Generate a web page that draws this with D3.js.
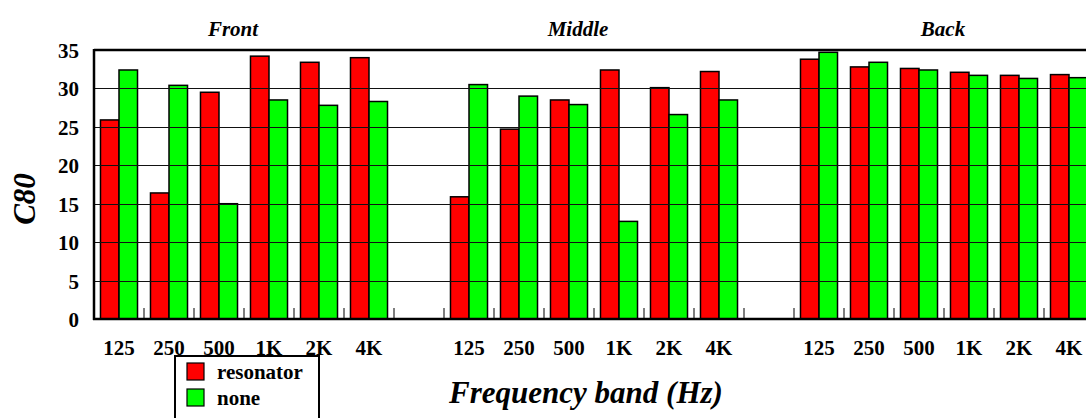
<!DOCTYPE html>
<html>
<head>
<meta charset="utf-8">
<script src="https://cdn.jsdelivr.net/npm/d3@7"></script>
<style>
  html, body { margin: 0; padding: 0; background: #fff; overflow: hidden; }
  svg { display: block; }
</style>
</head>
<body>
<svg id="chart" width="1086" height="418"></svg>
<script>
// data
var groups = ['Front', 'Middle', 'Back'];
var bands = ['125', '250', '500', '1K', '2K', '4K'];
var series = ['resonator', 'none'];
var resonatorFront  = [25.9, 16.4, 29.5, 34.2, 33.4, 34.0];
var noneFront       = [32.4, 30.4, 15.0, 28.5, 27.8, 28.3];
var resonatorMiddle = [15.9, 24.7, 28.5, 32.4, 30.1, 32.2];
var noneMiddle      = [30.5, 29.0, 27.9, 12.7, 26.6, 28.5];
var resonatorBack   = [33.8, 32.8, 32.6, 32.1, 31.7, 31.8];
var noneBack        = [34.7, 33.4, 32.4, 31.7, 31.3, 31.4];
var yTicks = [0, 5, 10, 15, 20, 25, 30, 35];

var FONT = '"Liberation Serif", "Times New Roman", Times, serif';
var colors = { resonator: '#ff0000', none: '#00ff00' };
var byGroup = {
  Front:  { resonator: resonatorFront,  none: noneFront },
  Middle: { resonator: resonatorMiddle, none: noneMiddle },
  Back:   { resonator: resonatorBack,   none: noneBack }
};

// slots: 6 bands per group, one empty slot between groups
var slots = [], rows = [];
groups.forEach(function(g, gi) {
  if (gi > 0) { slots.push('gap' + gi); }
  bands.forEach(function(b, bi) {
    var key = g + '-' + b;
    slots.push(key);
    series.forEach(function(s) {
      rows.push({ slot: key, series: s, value: byGroup[g][s][bi] });
    });
  });
});

var L = { left: 94, right: 1094, top: 50, bottom: 319 };
var svg = d3.select('#chart').style('font-family', FONT);

var x = d3.scaleBand().domain(slots).range([L.left, L.right]).padding(0);
var xs = d3.scaleBand().domain(series).range([0, x.bandwidth()])
  .paddingInner(0).paddingOuter(0.35);
var y = d3.scaleLinear().domain([0, 35]).range([L.bottom, L.top]);

// bars
svg.append('g').selectAll('rect')
  .data(rows)
  .enter()
  .append('rect')
  .attr('x', function(d) { return x(d.slot) + xs(d.series); })
  .attr('y', function(d) { return y(d.value); })
  .attr('width', xs.bandwidth())
  .attr('height', function(d) { return y(0) - y(d.value); })
  .style('fill', function(d) { return colors[d.series]; })
  .style('stroke', '#000')
  .style('stroke-width', 1.5);

// grid lines sit over the bars in the original
svg.append('g').selectAll('line')
  .data(yTicks.filter(function(v) { return v > 0 && v < 35; }))
  .enter()
  .append('line')
  .attr('x1', L.left).attr('x2', L.right)
  .attr('y1', function(d) { return Math.round(y(d)) + 0.5; })
  .attr('y2', function(d) { return Math.round(y(d)) + 0.5; })
  .style('stroke', '#111')
  .style('stroke-width', 1.2);

// top frame line
svg.append('line')
  .attr('x1', L.left).attr('x2', L.right)
  .attr('y1', y(35)).attr('y2', y(35))
  .style('stroke', '#000').style('stroke-width', 2.5);

// boundary ticks, pointing up from the axis
svg.append('g').selectAll('line')
  .data(slots.slice(1))
  .enter()
  .append('line')
  .attr('x1', function(d) { return x(d); })
  .attr('x2', function(d) { return x(d); })
  .attr('y1', L.bottom).attr('y2', L.bottom - 11)
  .style('stroke', '#555').style('stroke-width', 1.5);

function styleTicks(sel) {
  sel.select('.domain').remove();
  sel.selectAll('text')
    .attr('fill', '#000')
    .style('font-family', FONT)
    .style('font-size', '21px')
    .style('font-weight', 'bold');
}

// axes
var yAxis = svg.append('g')
  .attr('transform', 'translate(' + L.left + ',0)')
  .call(d3.axisLeft(y).tickValues(yTicks).tickSize(0).tickPadding(15));
styleTicks(yAxis);
yAxis.selectAll('text').attr('dy', '0.36em');

var xAxis = svg.append('g')
  .attr('transform', 'translate(0,' + L.bottom + ')')
  .call(d3.axisBottom(x).tickSize(0).tickPadding(21)
    .tickFormat(function(d) { return d.indexOf('gap') === 0 ? '' : d.split('-')[1]; }));
styleTicks(xAxis);

svg.append('line')
  .attr('x1', L.left - 1).attr('x2', L.right)
  .attr('y1', L.bottom).attr('y2', L.bottom)
  .style('stroke', '#000').style('stroke-width', 2.5);
svg.append('line')
  .attr('x1', L.left).attr('x2', L.left)
  .attr('y1', L.top - 1).attr('y2', L.bottom + 1)
  .style('stroke', '#000').style('stroke-width', 2.5);

// group titles
var titleX = { Front: 233, Middle: 578, Back: 943 };
svg.append('g').selectAll('text')
  .data(groups)
  .enter()
  .append('text')
  .attr('x', function(d) { return titleX[d]; })
  .attr('y', 36)
  .attr('text-anchor', 'middle')
  .style('font-size', '21px')
  .style('font-weight', 'bold')
  .style('font-style', 'italic')
  .text(function(d) { return d; });

// axis titles
svg.append('text')
  .attr('transform', 'translate(35,199) rotate(-90)')
  .attr('text-anchor', 'middle')
  .style('font-size', '31px').style('font-weight', 'bold').style('font-style', 'italic')
  .text('C80');
svg.append('text')
  .attr('x', 586).attr('y', 403)
  .attr('text-anchor', 'middle')
  .style('font-size', '31px').style('font-weight', 'bold').style('font-style', 'italic')
  .text('Frequency band (Hz)');

// legend
var lg = svg.append('g').attr('transform', 'translate(175,356)');
lg.append('rect')
  .attr('x', 0).attr('y', 0).attr('width', 144).attr('height', 70)
  .style('fill', '#fff').style('stroke', '#000').style('stroke-width', 2);
series.forEach(function(s, i) {
  lg.append('rect')
    .attr('x', 12).attr('y', 7 + i * 26).attr('width', 17).attr('height', 17)
    .style('fill', colors[s]).style('stroke', '#000').style('stroke-width', 1.2);
  lg.append('text')
    .attr('x', 42).attr('y', 23 + i * 26)
    .style('font-size', '21px').style('font-weight', 'bold')
    .text(s);
});
</script>
</body>
</html>
